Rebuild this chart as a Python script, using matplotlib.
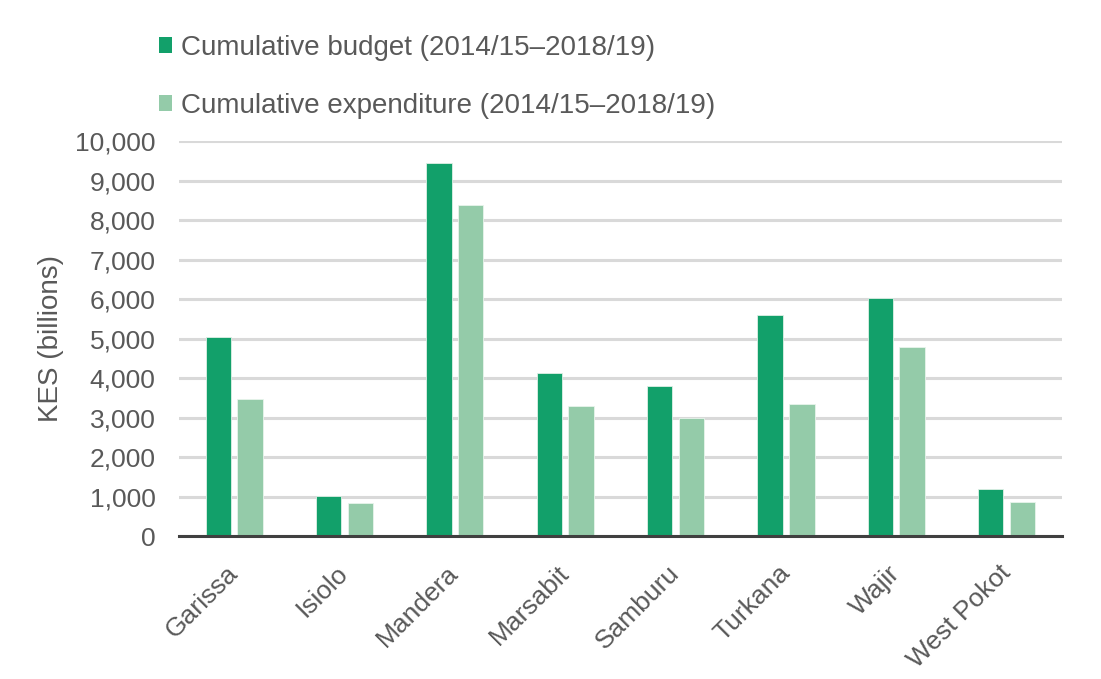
import numpy as np
import matplotlib
matplotlib.use("Agg")
import matplotlib.pyplot as plt
from matplotlib.patches import Patch

counties = ["Garissa", "Isiolo", "Mandera", "Marsabit", "Samburu", "Turkana", "Wajir", "West Pokot"]
budget = [5050, 1020, 9450, 4130, 3800, 5590, 6025, 1180]
expenditure = [3470, 835, 8380, 3300, 3000, 3350, 4785, 850]
labels = ["Cumulative budget (2014/15\u20132018/19)", "Cumulative expenditure (2014/15\u20132018/19)"]

DARK = "#12A06A"
LIGHT = "#94CBA9"
TEXT = "#595959"

plt.rcParams["font.family"] = ["Liberation Sans", "DejaVu Sans"]

fig = plt.figure(figsize=(11.01, 6.79), dpi=100)
ax = fig.add_axes([0.1626, 0.2106, 0.8018, 0.5817])

x = np.arange(len(counties))
w = 0.23
off = 0.144
ax.bar(x - off, budget, w, color=DARK, edgecolor="#dff0e6", linewidth=0.6, zorder=3)
ax.bar(x + off, expenditure, w, color=LIGHT, edgecolor="#e8f4ec", linewidth=0.6, zorder=3)

ax.set_xlim(-0.5, len(counties) - 0.5)
ax.set_ylim(0, 10000)
ax.set_yticks(np.arange(0, 10001, 1000))
ax.yaxis.set_major_formatter(matplotlib.ticker.FuncFormatter(lambda v, p: "{:,.0f}".format(v)))
ax.grid(axis="y", color="#D9D9D9", linewidth=2.2, zorder=0)
ax.set_axisbelow(True)

for s in ["top", "right", "left"]:
  ax.spines[s].set_visible(False)
ax.spines["bottom"].set_color("#404040")
ax.spines["bottom"].set_linewidth(2.2)
ax.spines["bottom"].set_zorder(4)

ax.tick_params(axis="both", length=0, labelsize=19, labelcolor=TEXT)
ax.tick_params(axis="y", pad=17)
ax.set_xticks(x)
ax.set_xticklabels(counties, rotation=45, ha="right", va="center", rotation_mode="anchor")
ax.tick_params(axis="x", pad=24)

ax.set_ylabel("KES (billions)", fontsize=20, color=TEXT, labelpad=8)

handles = [Patch(facecolor=DARK), Patch(facecolor=LIGHT)]
fig.legend(handles, labels, loc="upper left", bbox_to_anchor=(0.132, 0.969),
           frameon=False, fontsize=20, labelcolor=TEXT, borderpad=0,
           handlelength=0.47, handleheight=0.47, handletextpad=0.3, labelspacing=1.15)

fig.savefig("out.png", dpi=100)
